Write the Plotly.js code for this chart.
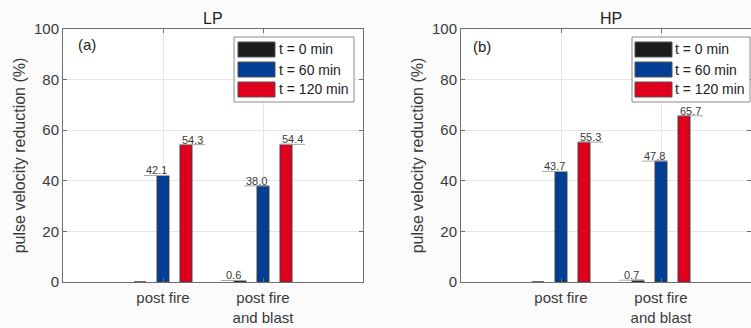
<!DOCTYPE html>
<html>
<head>
<meta charset="utf-8">
<script src="https://cdn.plot.ly/plotly-3.0.1.min.js"></script>
<style>html,body{margin:0;padding:0;background:#fbfbfb;}#chart{width:751px;height:328px;}</style>
</head>
<body>
<div id="chart"></div>
<script>
// ---- data ----
const categories = ["post fire", "post fire<br>and blast"];
const catPos = [1, 2];
const seriesNames = ["t = 0 min", "t = 60 min", "t = 120 min"];
const lpT0 = [0, 0.6];
const lpT60 = [42.1, 38.0];
const lpT120 = [54.3, 54.4];
const hpT0 = [0, 0.7];
const hpT60 = [43.7, 47.8];
const hpT120 = [55.3, 65.7];
const yTicks = [0, 20, 40, 60, 80, 100];
const panelTitles = ["LP", "HP"];
const panelTags = ["(a)", "(b)"];

// ---- style ----
const colors = ["#1c1c1c", "#003f94", "#e0001b"];
const W = 751, H = 328;
const font = "Liberation Sans, Arial, Helvetica, sans-serif";
const txt = "#3a3a3a";
const slot = 0.23, barW = 0.12, ulLen = 0.25;

const panels = [
  {vals: [lpT0, lpT60, lpT120], xa: "x", ya: "y", dom: [63 / W, 363 / W], range: [0, 3]},
  {vals: [hpT0, hpT60, hpT120], xa: "x2", ya: "y2", dom: [461 / W, 1], range: [0, 2.9]}
];

const traces = [];
const annotations = [];
const shapes = [];

panels.forEach((p, pi) => {
  p.vals.forEach((v, k) => {
    traces.push({
      type: "bar", x: catPos, y: v, name: seriesNames[k],
      xaxis: p.xa, yaxis: p.ya, showlegend: false,
      marker: {color: colors[k], line: {color: "#3c3c3c", width: 1}},
      hoverinfo: "y"
    });
    v.forEach((val, ci) => {
      if (val === 0) return;
      const c = catPos[ci] + (k - 1) * slot;
      let x0, x1;
      if (k < 2) { x1 = c + barW / 2; x0 = x1 - ulLen; }
      else { x0 = c - barW / 2; x1 = x0 + ulLen; }
      shapes.push({type: "line", xref: p.xa, yref: p.ya, x0: x0, x1: x1, y0: val, y1: val,
        line: {color: "#a8a8a8", width: 1}, layer: "above"});
      annotations.push({xref: p.xa, yref: p.ya, x: (x0 + x1) / 2, y: val, text: val.toFixed(1),
        showarrow: false, xanchor: "center", yanchor: "bottom", yshift: -3,
        font: {family: font, size: 11, color: txt}});
    });
  });
});

// pixel -> paper helpers (margins l=r=0, t=29, b=46)
const px = x => x / W;
const py = y => 1 - (y - 29) / (H - 29 - 46);

// titles and tags
annotations.push({xref: "paper", yref: "paper", x: px(213), y: py(18), text: panelTitles[0], showarrow: false,
  xanchor: "center", yanchor: "middle", font: {family: font, size: 16, color: "#222"}});
annotations.push({xref: "paper", yref: "paper", x: px(611), y: py(18), text: panelTitles[1], showarrow: false,
  xanchor: "center", yanchor: "middle", font: {family: font, size: 16, color: "#222"}});
annotations.push({xref: "paper", yref: "paper", x: px(76), y: py(45), text: panelTags[0], showarrow: false,
  xanchor: "left", yanchor: "middle", font: {family: font, size: 15, color: "#222"}});
annotations.push({xref: "paper", yref: "paper", x: px(471), y: py(46), text: panelTags[1], showarrow: false,
  xanchor: "left", yanchor: "middle", font: {family: font, size: 15, color: "#222"}});

// custom legends
const legends = [{bx0: 234, bx1: 354, sx0: 238, sx1: 275, tx: 277}, {bx0: 632, bx1: 750, sx0: 635, sx1: 672, tx: 673}];
const rowsY = [[42, 57], [62, 77], [82, 97]];
legends.forEach(L => {
  shapes.push({type: "rect", xref: "paper", yref: "paper", x0: px(L.bx0), x1: px(L.bx1), y0: py(37), y1: py(102),
    fillcolor: "#ffffff", line: {color: "#8a8a8a", width: 1}, layer: "above"});
  seriesNames.forEach((n, k) => {
    shapes.push({type: "rect", xref: "paper", yref: "paper", x0: px(L.sx0), x1: px(L.sx1),
      y0: py(rowsY[k][0]), y1: py(rowsY[k][1]), fillcolor: colors[k], line: {color: "#555", width: 1}, layer: "above"});
    annotations.push({xref: "paper", yref: "paper", x: px(L.tx), y: py((rowsY[k][0] + rowsY[k][1]) / 2),
      text: n, showarrow: false, xanchor: "left", yanchor: "middle", font: {family: font, size: 14, color: "#222"}});
  });
});

function xAxis(p, anchor) {
  return {domain: p.dom, range: p.range, anchor: anchor, tickvals: catPos, ticktext: categories,
    showgrid: true, gridcolor: "#e6e6e6", zeroline: false, showline: true, linecolor: "#6e6e6e", linewidth: 1,
    mirror: "ticks", ticks: "inside", ticklen: 4, tickcolor: "#6e6e6e", ticklabelstandoff: 2,
    tickfont: {family: font, size: 15, color: txt}, fixedrange: true};
}
function yAxis(anchor) {
  return {domain: [0, 1], range: [0, 100], anchor: anchor, tickvals: yTicks,
    showgrid: true, gridcolor: "#e6e6e6", zeroline: false, showline: true, linecolor: "#6e6e6e", linewidth: 1,
    mirror: "ticks", ticks: "inside", ticklen: 4, tickcolor: "#6e6e6e",
    tickfont: {family: font, size: 15, color: txt},
    title: {text: "pulse velocity reduction (%)", font: {family: font, size: 16, color: txt}, standoff: 4},
    fixedrange: true};
}

const layout = {
  width: W, height: H,
  margin: {l: 0, r: 0, t: 29, b: 46},
  paper_bgcolor: "#fbfbfb", plot_bgcolor: "#ffffff",
  barmode: "group", bargap: 0.31, bargroupgap: 0.48,
  showlegend: false,
  xaxis: xAxis(panels[0], "y"), yaxis: yAxis("x"),
  xaxis2: xAxis(panels[1], "y2"), yaxis2: yAxis("x2"),
  annotations: annotations, shapes: shapes
};

Plotly.newPlot("chart", traces, layout, {displayModeBar: false, staticPlot: true});
</script>
</body>
</html>
